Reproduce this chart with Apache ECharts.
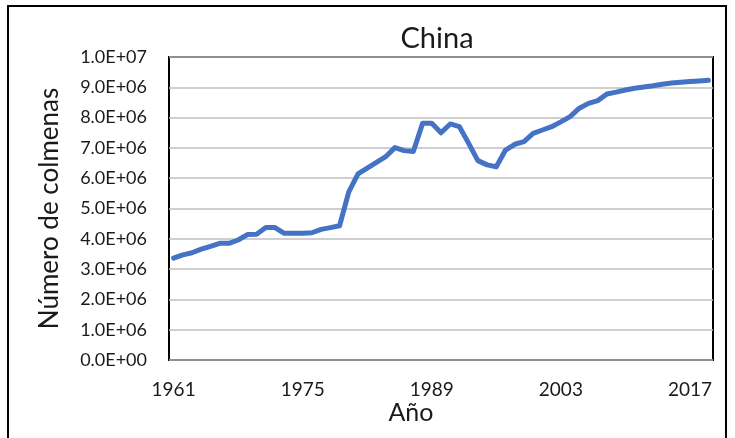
<!DOCTYPE html>
<html>
<head>
<meta charset="utf-8">
<script src="https://cdn.jsdelivr.net/npm/echarts@6/dist/echarts.min.js"></script>
<style>
  html, body { margin: 0; padding: 0; background: #fff; }
  #chart { width: 735px; height: 438px; }
</style>
</head>
<body>
<div id="chart"></div>
<script>
// years 1961..2019
const years = [];
for (let y = 1961; y <= 2019; y++) years.push(String(y));

// number of beehives
const hives = [
  3.36e6, 3.47e6, 3.54e6, 3.66e6, 3.75e6, 3.85e6, 3.85e6, 3.96e6, 4.14e6, 4.15e6,
  4.37e6, 4.37e6, 4.18e6, 4.18e6, 4.18e6, 4.20e6, 4.31e6, 4.37e6, 4.43e6, 5.55e6,
  6.14e6, 6.33e6, 6.52e6, 6.71e6, 7.01e6, 6.91e6, 6.88e6, 7.81e6, 7.81e6, 7.50e6,
  7.79e6, 7.70e6, 7.15e6, 6.58e6, 6.44e6, 6.38e6, 6.93e6, 7.12e6, 7.21e6, 7.48e6,
  7.59e6, 7.70e6, 7.86e6, 8.03e6, 8.31e6, 8.47e6, 8.56e6, 8.78e6, 8.84e6, 8.91e6,
  8.97e6, 9.01e6, 9.05e6, 9.10e6, 9.14e6, 9.17e6, 9.19e6, 9.21e6, 9.23e6
];

const font = "Lato, 'Noto Sans', sans-serif";
const ink = "#1a1a1a";

function sci(v) {
  if (v === 0) return "0.0E+00";
  const e = Math.floor(Math.log10(v));
  const m = v / Math.pow(10, e);
  return m.toFixed(1) + "E+" + String(e).padStart(2, "0");
}

const chart = echarts.init(document.getElementById("chart"));

chart.setOption({
  backgroundColor: "#fff",
  animation: false,
  title: {
    text: "China",
    left: 432,
    top: 19,
    textAlign: "center",
    textStyle: { fontFamily: font, fontSize: 29, fontWeight: "normal", color: ink }
  },
  grid: {
    left: 169, top: 57, right: 22, bottom: 78,
    show: true, borderColor: "#000", borderWidth: 2
  },
  xAxis: {
    type: "category",
    data: years,
    boundaryGap: true,
    axisLine: { show: false },
    axisTick: { show: false },
    axisLabel: {
      interval: 13,
      margin: 20,
      fontFamily: font, fontSize: 19, color: ink
    },
    splitLine: { show: false }
  },
  yAxis: {
    type: "value",
    min: 0, max: 1e7, interval: 1e6,
    name: "Número de colmenas",
    nameLocation: "middle",
    nameGap: 106,
    nameTextStyle: { fontFamily: font, fontSize: 26, color: ink },
    axisLine: { show: false },
    axisTick: { show: false },
    axisLabel: {
      margin: 22,
      fontFamily: font, fontSize: 18, color: ink,
      formatter: sci
    },
    splitLine: { lineStyle: { color: "#bfbfbf", width: 1.5 } }
  },
  series: [{
    type: "line",
    data: hives,
    symbol: "none",
    lineStyle: { color: "#4472c4", width: 5, cap: "round", join: "round" },
    z: 3
  }],
  graphic: [{
    type: "rect",
    shape: { x: 8, y: 6, width: 718, height: 450 },
    style: { fill: "none", stroke: "#000", lineWidth: 2 },
    silent: true
  }, {
    type: "text",
    x: 411, y: 413,
    style: {
      text: "Año", fill: ink,
      font: "25px " + font,
      align: "center", verticalAlign: "middle"
    },
    silent: true
  }]
});
</script>
</body>
</html>
